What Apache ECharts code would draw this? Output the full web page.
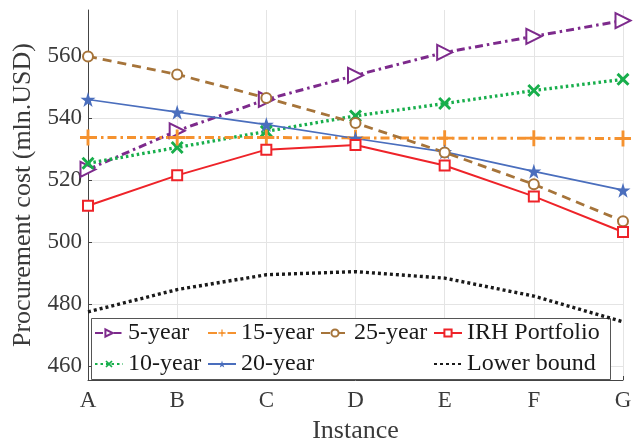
<!DOCTYPE html>
<html><head><meta charset="utf-8">
<script src="https://cdn.jsdelivr.net/npm/echarts@6/dist/echarts.min.js"></script>
<style>html,body{margin:0;padding:0;background:#fff}#c{width:640px;height:441px}</style>
</head><body><div id="c"></div>
<script>
const categories = ['A','B','C','D','E','F','G'];
const yTicks = [460, 480, 500, 520, 540, 560];
const y5 = [523.5, 536.0, 546.1, 553.9, 561.3, 566.5, 571.6];
const y10 = [525.5, 530.6, 535.8, 540.8, 544.8, 549.0, 552.6];
const y15 = [533.8, 533.8, 533.8, 533.7, 533.6, 533.6, 533.5];
const y20 = [546.1, 542.0, 538.0, 533.5, 529.2, 522.9, 516.8];
const y25 = [560.0, 554.2, 546.6, 538.5, 529.0, 518.7, 506.8];
const yIRH = [511.8, 521.6, 529.9, 531.4, 524.8, 514.8, 503.3];
const yLB = [477.5, 484.7, 489.5, 490.5, 488.4, 482.6, 474.3];

const FONT = 'Liberation Serif';
const TXT = '#3a3a3a';
const FS = 23;
const STAR = 'path://M50,0 L61.2,34.5 L97.6,34.5 L68.2,55.9 L79.4,90.5 L50,69.1 L20.6,90.5 L31.8,55.9 L2.4,34.5 L38.8,34.5 Z';
const PLUS = 'path://M41,0 H59 V41 H100 V59 H59 V100 H41 V59 H0 V41 H41 Z';
const XMARK = 'path://M16,0 L50,34 L84,0 L100,16 L66,50 L100,84 L84,100 L50,66 L16,100 L0,84 L34,50 L0,16 Z';

function line(name, data, color, type, width, symbol, size, extra) {
  return Object.assign({
    name, type: 'line', data, symbol, symbolSize: size, showSymbol: symbol !== 'none',
    lineStyle: {color, width, type},
    itemStyle: {color, borderWidth: 2},
    emphasis: {disabled: true}, animation: false
  }, extra || {});
}

const series = [
  line('5-year', y5, '#7D2A8C', [8,4,2.5,4], 3, 'emptyTriangle', 15, {symbolRotate: -90, itemStyle:{color:'#7D2A8C', borderWidth:2.5}}),
  line('10-year', y10, '#17AE4B', [2.5,3], 3.3, XMARK, 13),
  line('15-year', y15, '#F5922F', [9,4,2.5,4], 3, PLUS, 16),
  line('20-year', y20, '#4A6EBD', 'solid', 1.7, STAR, 15),
  line('25-year', y25, '#A6743A', [9,6], 2.8, 'emptyCircle', 10, {itemStyle:{color:'#A6743A', borderWidth:2.2}}),
  line('IRH Portfolio', yIRH, '#EE2329', 'solid', 2, 'emptyRect', 10, {itemStyle:{color:'#EE2329', borderWidth:2}}),
  line('Lower bound', yLB, '#1a1a1a', [3,3], 3.4, 'none', 0)
];

function legend(data, left) {
  return {
    data, left, top: 321, orient: 'vertical', itemGap: 7, itemWidth: 28, itemHeight: 9,
    textStyle: {fontFamily: FONT, fontSize: 24, color: '#1a1a1a'},
    backgroundColor: 'transparent', padding: 0, selectedMode: false, z: 5
  };
}

const chart = echarts.init(document.getElementById('c'), null, {renderer: 'canvas'});
chart.setOption({
  animation: false,
  grid: {left: 88, right: 17, top: 10, bottom: 61, containLabel: false, outerBoundsMode: 'none'},
  xAxis: {
    type: 'category', data: categories, boundaryGap: false,
    name: 'Instance', nameLocation: 'middle', nameGap: 38,
    nameTextStyle: {fontFamily: FONT, fontSize: 26, color: TXT},
    axisLine: {lineStyle: {color: '#444', width: 1}},
    axisTick: {show: true, inside: true, length: 4, lineStyle: {color: '#444'}},
    axisLabel: {fontFamily: FONT, fontSize: FS, color: TXT, margin: 9},
    splitLine: {show: true, lineStyle: {color: '#e4e4e4', width: 1}}
  },
  yAxis: {
    type: 'value', min: 455.5, max: 575,
    name: 'Procurement cost (mln.USD)', nameLocation: 'middle', nameGap: 47,
    nameTextStyle: {fontFamily: FONT, fontSize: 26, color: TXT},
    axisLine: {show: true, lineStyle: {color: '#444', width: 1}},
    axisTick: {show: true, inside: true, length: 4, lineStyle: {color: '#444'}, customValues: yTicks},
    axisLabel: {fontFamily: FONT, fontSize: FS, color: TXT, margin: 6, customValues: yTicks},
    splitLine: {show: true, lineStyle: {color: '#e4e4e4', width: 1}}
  },
  legend: [
    legend(['5-year','10-year'], 94),
    legend(['15-year','20-year'], 207),
    legend(['25-year'], 320),
    legend(['IRH Portfolio', {name: 'Lower bound', itemStyle: {opacity: 0}}], 433)
  ],
  graphic: [{
    type: 'rect', left: 91, top: 318, z: 3,
    shape: {width: 519, height: 61},
    style: {fill: '#fff', stroke: '#555', lineWidth: 1}
  }],
  series
});
</script></body></html>
